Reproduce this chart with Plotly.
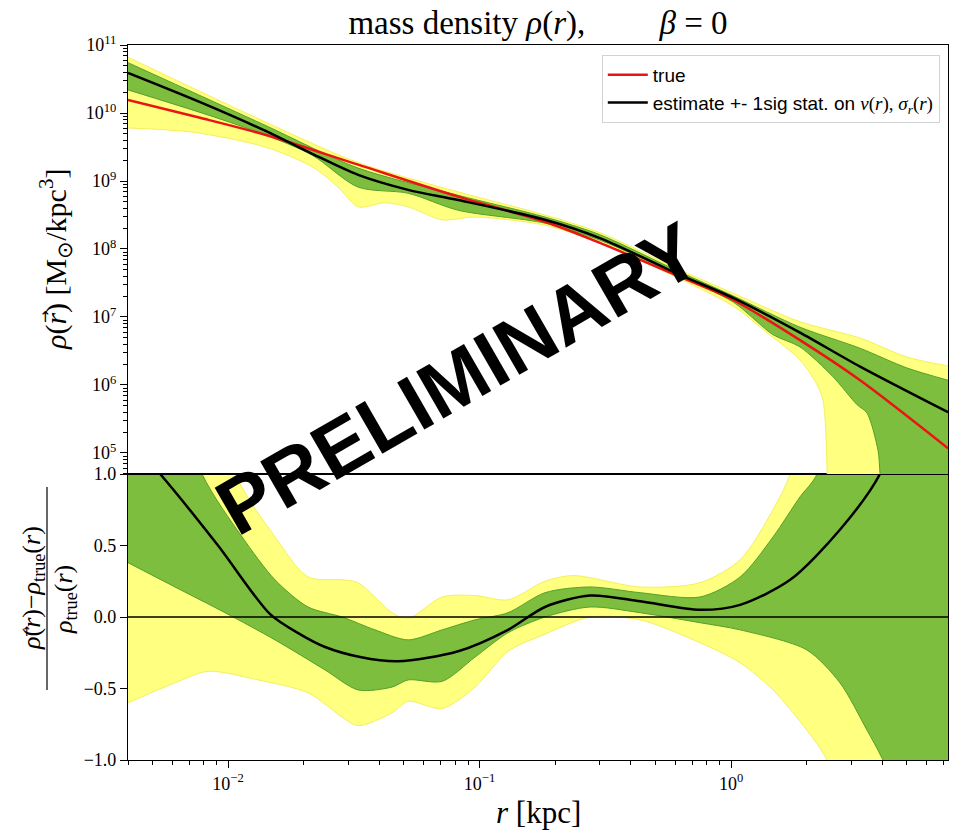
import numpy as np
import plotly.graph_objects as go

# ---------------- data ----------------
# top panel: mass density, log10(rho / (Msun/kpc^3)) vs r [kpc]
r_true = [0.0040, 0.00774, 0.01403, 0.0329, 0.0822, 0.182, 0.301, 0.627, 1.02, 1.88, 3.26, 7.29]
logrho_true = [10.19, 9.93, 9.68, 9.24, 8.77, 8.40, 8.09, 7.59, 7.25, 6.66, 6.07, 5.07]

r_est = [0.0040, 0.00774, 0.01403, 0.0216, 0.0329, 0.0520, 0.0822, 0.182, 0.301, 0.627,
         1.02, 1.88, 3.26, 7.29]
logrho_est = [10.59, 10.16, 9.74, 9.40, 9.09, 8.87, 8.72, 8.43, 8.16, 7.62,
              7.28, 6.77, 6.27, 5.60]

r_hi = [0.0040, 0.01403, 0.0329, 0.0822, 0.182, 0.301, 0.627, 1.02, 1.88, 3.26, 5.01, 7.29]
logrho_1s_hi = [10.74, 9.82, 9.19, 8.79, 8.47, 8.21, 7.66, 7.31, 6.85, 6.54, 6.25, 6.07]
logrho_2s_hi = [10.82, 9.87, 9.27, 8.84, 8.50, 8.24, 7.69, 7.35, 6.93, 6.69, 6.41, 6.28]

r_1s_lo = [0.0040, 0.00833, 0.01403, 0.0216, 0.0329, 0.0520, 0.0822, 0.182, 0.301, 0.627,
           1.02, 1.469, 1.88, 2.545, 3.17, 3.47, 3.84, 3.91, 4.06, 7.29]
logrho_1s_lo = [10.34, 9.97, 9.68, 9.38, 8.91, 8.82, 8.57, 8.38, 8.13, 7.60,
                7.22, 6.74, 6.56, 6.12, 5.71, 5.59, 5.04, 4.71, 4.0, 2.0]

r_2s_lo = [0.0040, 0.00719, 0.01403, 0.0216, 0.0274, 0.0329, 0.0421, 0.0520, 0.0710, 0.0960,
           0.182, 0.301, 0.627, 1.02, 1.39, 1.88, 2.20, 2.32, 2.39, 2.41, 2.45, 7.29]
logrho_2s_lo = [9.78, 9.72, 9.50, 9.21, 8.91, 8.62, 8.68, 8.62, 8.43, 8.47,
                8.35, 8.09, 7.56, 7.16, 6.77, 6.37, 6.00, 5.78, 5.19, 4.71, 4.0, 2.0]

# bottom panel: relative deviation (rho - rho_true) / rho_true
r_b_est = [0.0040, 0.00537, 0.00912, 0.01469, 0.0193, 0.0243, 0.0335, 0.0474, 0.0822, 0.1298,
           0.182, 0.275, 0.435, 0.753, 1.087, 1.718, 2.71, 3.91, 7.29]
ratio_est = [1.25, 1.0, 0.5, 0.02, -0.12, -0.21, -0.28, -0.31, -0.24, -0.09,
             0.07, 0.15, 0.11, 0.05, 0.085, 0.26, 0.61, 1.0, 2.4]

r_b_1s_hi = [0.0040, 0.00788, 0.01137, 0.01537, 0.0208, 0.0284, 0.0384, 0.0520, 0.0710, 0.0960,
             0.1298, 0.182, 0.275, 0.435, 0.753, 1.087, 1.469, 1.88, 2.20, 7.29]
ratio_1s_hi = [2.5, 1.0, 0.56, 0.26, 0.07, 0.0, -0.09, -0.16, -0.09, -0.02,
               0.03, 0.17, 0.21, 0.17, 0.14, 0.28, 0.56, 0.84, 1.0, 4.0]

r_b_1s_lo = [0.0040, 0.00615, 0.00973, 0.01537, 0.0243, 0.0329, 0.0449, 0.0520, 0.0710, 0.0960,
             0.1298, 0.182, 0.275, 0.435, 0.753, 1.087, 2.00, 2.71, 3.47, 4.02, 7.29]
ratio_1s_lo = [0.38, 0.21, 0.03, -0.16, -0.37, -0.51, -0.49, -0.44, -0.45, -0.28,
               -0.11, 0.0, 0.07, 0.03, -0.04, -0.09, -0.23, -0.46, -0.79, -1.0, -2.0]

r_b_2s_hi = [0.0040, 0.01066, 0.01537, 0.0208, 0.0284, 0.0329, 0.0449, 0.0520, 0.0710, 0.0960,
             0.1298, 0.182, 0.235, 0.435, 0.753, 1.087, 1.469, 1.718, 7.29]
ratio_2s_hi = [3.3, 1.0, 0.56, 0.28, 0.26, 0.24, 0.03, -0.01, 0.14, 0.15,
               0.12, 0.25, 0.29, 0.21, 0.24, 0.40, 0.75, 1.0, 5.0]

r_b_2s_lo = [0.0040, 0.00615, 0.00833, 0.01316, 0.0208, 0.0284, 0.0329, 0.0449, 0.0520, 0.0710,
             0.0960, 0.1298, 0.182, 0.275, 0.435, 0.753, 1.087, 1.469, 2.00, 2.41, 7.29]
ratio_2s_lo = [-0.60, -0.46, -0.38, -0.44, -0.53, -0.70, -0.76, -0.67, -0.59, -0.64,
               -0.49, -0.24, -0.12, 0.0, -0.02, -0.18, -0.32, -0.51, -0.79, -1.0, -3.0]

# ticks
x_tickvals = [0.01, 0.1, 1.0]
x_ticktext = ["10<sup>−2</sup>", "10<sup>−1</sup>", "10<sup>0</sup>"]
y_top_tickvals = [1e5, 1e6, 1e7, 1e8, 1e9, 1e10, 1e11]
y_top_ticktext = ["10<sup>5</sup>", "10<sup>6</sup>", "10<sup>7</sup>", "10<sup>8</sup>",
                  "10<sup>9</sup>", "10<sup>10</sup>", "10<sup>11</sup>"]
y_bot_tickvals = [-1.0, -0.5, 0.0, 0.5, 1.0]

# ---------------- styling ----------------
YELLOW = "rgb(255,255,128)"
YELLOW_EDGE = "rgb(245,240,90)"
GREEN = "rgb(125,190,62)"
GREEN_EDGE = "rgb(85,160,40)"
SERIF = "Liberation Serif"
SANS = "Liberation Sans"
SM = 0.8

x_minor = [k * 10.0 ** e for e in range(-3, 1) for k in range(2, 10)]
y_minor = [k * 10.0 ** e for e in range(4, 11) for k in range(2, 10)]

fig = go.Figure()


def edge(x, y, color, xa, ya, fill=None, fillcolor=None):
    fig.add_trace(go.Scatter(x=x, y=y, mode="lines", xaxis=xa, yaxis=ya,
                             line=dict(color=color, width=1, shape="spline", smoothing=SM),
                             fill=fill, fillcolor=fillcolor, showlegend=False,
                             hoverinfo="skip"))


p = lambda v: list(10.0 ** np.array(v))

# top panel bands
edge(r_2s_lo, p(logrho_2s_lo), YELLOW_EDGE, "x2", "y2")
edge(r_hi, p(logrho_2s_hi), YELLOW_EDGE, "x2", "y2", "tonexty", YELLOW)
edge(r_1s_lo, p(logrho_1s_lo), GREEN_EDGE, "x2", "y2")
edge(r_hi, p(logrho_1s_hi), GREEN_EDGE, "x2", "y2", "tonexty", GREEN)
fig.add_trace(go.Scatter(x=r_true, y=p(logrho_true), mode="lines", xaxis="x2", yaxis="y2",
                         line=dict(color="rgb(235,20,20)", width=2.5, shape="spline", smoothing=SM),
                         name="true"))
fig.add_trace(go.Scatter(x=r_est, y=p(logrho_est), mode="lines", xaxis="x2", yaxis="y2",
                         line=dict(color="black", width=2.5, shape="spline", smoothing=SM),
                         name="estimate +- 1sig stat. on <span style='font-family:Liberation Serif'>"
                              "<i>ν</i>(<i>r</i>), <i>σ<sub>r</sub></i>(<i>r</i>)</span>"))

# bottom panel bands
edge(r_b_2s_lo, ratio_2s_lo, YELLOW_EDGE, "x", "y")
edge(r_b_2s_hi, ratio_2s_hi, YELLOW_EDGE, "x", "y", "tonexty", YELLOW)
edge(r_b_1s_lo, ratio_1s_lo, GREEN_EDGE, "x", "y")
edge(r_b_1s_hi, ratio_1s_hi, GREEN_EDGE, "x", "y", "tonexty", GREEN)
fig.add_trace(go.Scatter(x=r_b_est, y=ratio_est, mode="lines", xaxis="x", yaxis="y",
                         line=dict(color="black", width=2.5, shape="spline", smoothing=SM),
                         showlegend=False, hoverinfo="skip"))

axis_common = dict(showline=True, linecolor="black", linewidth=1.2, mirror=True,
                   showgrid=False, zeroline=False, tickcolor="black", tickwidth=1.2,
                   tickfont=dict(family=SERIF, size=18, color="black"))

xr = [np.log10(0.0040), np.log10(7.29)]
fig.update_layout(
    width=956, height=831,
    margin=dict(l=128, r=8, t=45, b=71),
    paper_bgcolor="white", plot_bgcolor="white",
    xaxis=dict(domain=[0, 1], anchor="y", type="log", range=xr,
               tickvals=x_tickvals, ticktext=x_ticktext, ticks="outside", ticklen=7,
               minor=dict(tickvals=x_minor, ticks="outside", ticklen=4, tickcolor="black"),
               **axis_common),
    yaxis=dict(domain=[0, 0.4], anchor="x", range=[-1, 1],
               tickvals=y_bot_tickvals, tickformat=".1f", ticks="outside", ticklen=7,
               **axis_common),
    xaxis2=dict(domain=[0, 1], anchor="y2", type="log", range=xr, matches="x",
                showticklabels=False, ticks="", **axis_common),
    yaxis2=dict(domain=[0.4, 1], anchor="x2", type="log", range=[4.691, 11.0],
                tickvals=y_top_tickvals, ticktext=y_top_ticktext, ticks="outside", ticklen=7,
                minor=dict(tickvals=y_minor, ticks="outside", ticklen=4, tickcolor="black"),
                **axis_common),
    title=dict(text="mass density <i>ρ</i>(<i>r</i>),&nbsp;&nbsp;&nbsp;&nbsp;&nbsp;&nbsp;&nbsp;&nbsp;&nbsp;<i>β</i> = 0",
               x=0.5, xref="paper", xanchor="center", y=1 - 22 / 831, yanchor="middle",
               font=dict(family=SERIF, size=33, color="black")),
    legend=dict(x=0.99, y=0.986, xanchor="right", yanchor="top", traceorder="normal",
                bgcolor="rgba(255,255,255,0.9)", bordercolor="rgb(210,210,210)", borderwidth=1,
                font=dict(family=SANS, size=19, color="black"), tracegroupgap=0,
                itemwidth=40),
    showlegend=True,
)

# zero line in the ratio panel
fig.add_shape(type="line", xref="x domain", yref="y", x0=0, x1=1, y0=0, y1=0,
              line=dict(color="black", width=1.3), layer="above")

# axis labels
fig.add_annotation(text="<i>r</i> [kpc]", xref="paper", yref="paper", x=0.5, y=-0.073,
                   showarrow=False, yanchor="middle",
                   font=dict(family=SERIF, size=31, color="black"))
fig.add_annotation(text="<i>ρ</i>(<i>r</i>) [M<sub>⊙</sub>/kpc<sup>3</sup>]",
                   xref="paper", yref="paper",
                   x=(55 - 128) / 820, y=(760 - 260) / 715, textangle=-90, showarrow=False,
                   xanchor="center", yanchor="middle",
                   font=dict(family=SERIF, size=30, color="black"))
# vector arrow above r
fig.add_annotation(text="→", xref="paper", yref="paper",
                   x=(45 - 128) / 820, y=(760 - 317) / 715, textangle=-90, showarrow=False,
                   xanchor="center", yanchor="middle",
                   font=dict(family="DejaVu Sans", size=15, color="black"))
# fraction label for ratio panel
fig.add_annotation(text="<i>ρ</i>(<i>r</i>)−<i>ρ</i><sub>true</sub>(<i>r</i>)",
                   xref="paper", yref="paper",
                   x=(33 - 128) / 820, y=(760 - 588) / 715, textangle=-90, showarrow=False,
                   xanchor="center", yanchor="middle",
                   font=dict(family=SERIF, size=26, color="black"))
fig.add_annotation(text="→", xref="paper", yref="paper",
                   x=(26 - 128) / 820, y=(760 - 632) / 715, textangle=-90, showarrow=False,
                   xanchor="center", yanchor="middle",
                   font=dict(family="DejaVu Sans", size=13, color="black"))
fig.add_annotation(text="<i>ρ</i><sub>true</sub>(<i>r</i>)", xref="paper", yref="paper",
                   x=(65 - 128) / 820, y=(760 - 600) / 715, textangle=-90, showarrow=False,
                   xanchor="center", yanchor="middle",
                   font=dict(family=SERIF, size=26, color="black"))
fig.add_shape(type="line", xref="paper", yref="paper", x0=(47 - 128) / 820, x1=(47 - 128) / 820,
              y0=(760 - 487) / 715, y1=(760 - 690) / 715, line=dict(color="black", width=1.2))

# watermark
fig.add_annotation(text="PRELIMINARY", xref="paper", yref="paper", x=0.402, y=0.534,
                   textangle=-30, showarrow=False, xanchor="center", yanchor="middle",
                   font=dict(family=SANS, size=79, color="black", weight="bold"))

fig.write_html("out.html", config={"displayModeBar": False},
               post_script="document.body.style.margin='0px';")
